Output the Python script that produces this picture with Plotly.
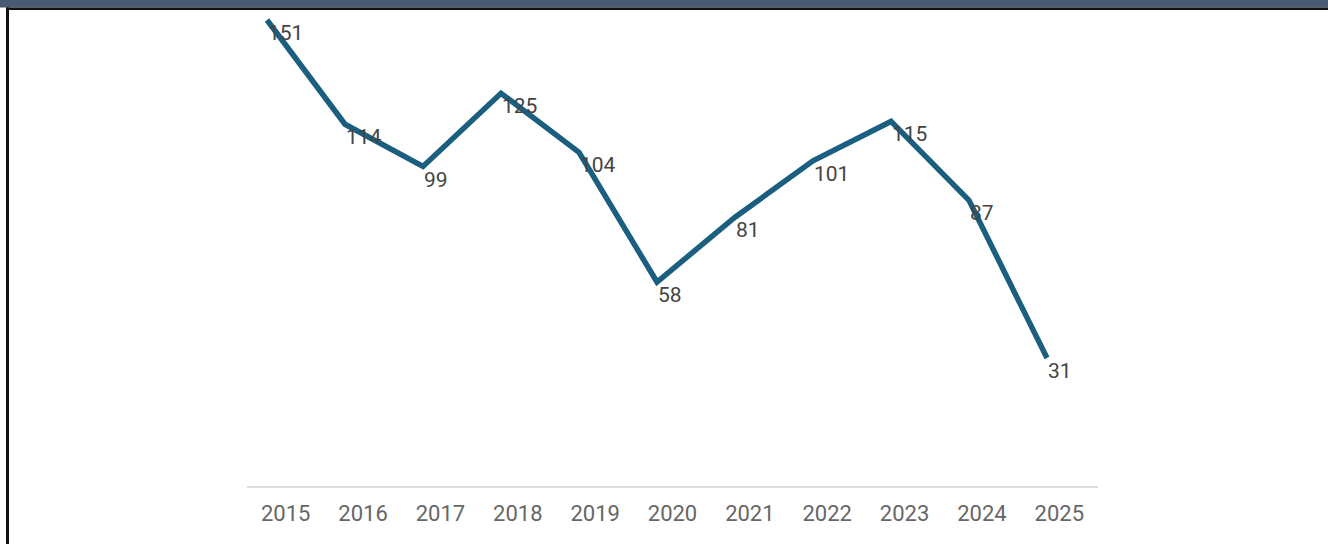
import plotly.graph_objects as go

years = [2015, 2016, 2017, 2018, 2019, 2020, 2021, 2022, 2023, 2024, 2025]
values = [151, 114, 99, 125, 104, 58, 81, 101, 115, 87, 31]
tick_labels = [str(y) for y in years]

W, H = 1328, 544
L, R, T, B = 247, 1328 - 1098, 10, 544 - 486
pw, ph = W - L - R, H - T - B

def px_x(p):
    return (p - L) / pw

def px_y(p):
    return 1 - (p - T) / ph

fig = go.Figure()
fig.add_trace(go.Scatter(
    x=years, y=values, mode="lines",
    line=dict(color="#1a5f80", width=5.5),
    hoverinfo="skip", showlegend=False,
))
# category axis carrying the year tick labels (band centres)
fig.add_trace(go.Scatter(
    x=tick_labels, y=values, mode="lines", xaxis="x2",
    line=dict(width=0, color="rgba(0,0,0,0)"),
    hoverinfo="skip", showlegend=False,
))

for x, v in zip(years, values):
    fig.add_annotation(
        x=x, y=v, text=str(v), showarrow=False,
        xanchor="left", yanchor="middle", xshift=-1, yshift=-13,
        font=dict(family="Roboto", size=21, color="#444444"),
    )

shapes = [
    dict(type="rect", xref="paper", yref="paper",
         x0=px_x(0), x1=px_x(W), y0=px_y(0), y1=px_y(7.5),
         fillcolor="#4a5a72", line=dict(width=0), layer="above"),
    dict(type="rect", xref="paper", yref="paper",
         x0=px_x(6), x1=px_x(W), y0=px_y(7.5), y1=px_y(10),
         fillcolor="#111111", line=dict(width=0), layer="above"),
    dict(type="rect", xref="paper", yref="paper",
         x0=px_x(6), x1=px_x(9), y0=px_y(7.5), y1=px_y(H),
         fillcolor="#111111", line=dict(width=0), layer="above"),
]

fig.update_layout(
    width=W, height=H,
    margin=dict(l=L, r=R, t=T, b=B, pad=0),
    paper_bgcolor="white", plot_bgcolor="white",
    shapes=shapes,
    xaxis=dict(
        range=[2015 - 20 / 78, 2025 + 51 / 78],
        showticklabels=False,
        showgrid=False, zeroline=False,
        showline=True, linecolor="#dddddd", linewidth=2,
        ticks="",
    ),
    xaxis2=dict(
        type="category", overlaying="x", anchor="y", side="bottom",
        range=[-0.5, 10.5],
        showgrid=False, zeroline=False, showline=False,
        ticks="", ticklen=0, ticklabelstandoff=12,
        tickfont=dict(family="Roboto", size=22, color="#666666"),
    ),
    yaxis=dict(
        range=[-14.4, 154.55], visible=False,
        showgrid=False, zeroline=False,
    ),
    showlegend=False,
)

fig.write_html("out.html", config={"displayModeBar": False},
               post_script="document.body.style.margin='0';")
